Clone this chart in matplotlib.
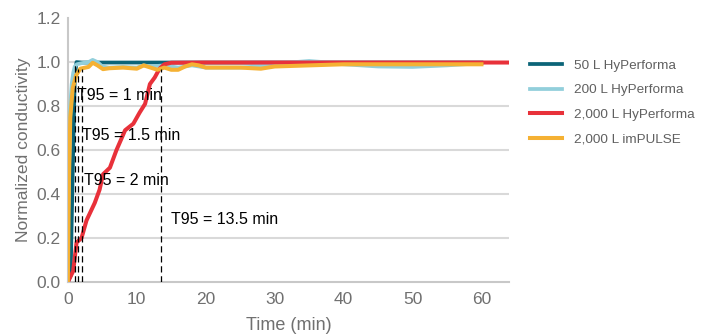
import matplotlib
matplotlib.use("Agg")
import matplotlib.pyplot as plt

plt.rcParams['font.family'] = ['Liberation Sans', 'DejaVu Sans']

# 50 L HyPerforma
t_50 = [0, 0.4, 0.7, 1.0, 1.25, 2, 5, 10, 20, 30, 40, 50, 60]
y_50 = [0, 0.03, 0.5, 0.93, 1.0, 0.998, 0.998, 0.998, 0.998, 0.998, 0.998, 0.998, 0.998]

# 200 L HyPerforma
t_200 = [0.05, 0.3, 0.55, 0.77, 1.0, 1.3, 2, 3, 3.6, 4.3, 5, 6, 8, 10, 11, 12, 14, 16,
         18, 20, 25, 30, 33, 35, 37, 40, 45, 50, 55, 60]
y_200 = [0.6, 0.78, 0.9, 0.95, 0.98, 0.99, 0.995, 1.0, 1.01, 1.0, 0.98, 0.975, 0.978, 0.975,
         0.985, 0.98, 0.985, 0.975, 0.985, 0.975, 0.975, 0.985, 1.0, 1.005, 1.0, 0.99, 0.98,
         0.978, 0.985, 0.995]

# 2,000 L HyPerforma
t_2000 = [0, 0.77, 1.26, 1.98, 2.7, 3.9, 4.6, 5.1, 6.1, 7.05, 8.3, 9.5, 10.4, 11.2, 11.9,
          12.6, 13.3, 14, 15, 20, 30, 40, 50, 65]
y_2000 = [0, 0.05, 0.18, 0.2, 0.28, 0.36, 0.42, 0.49, 0.52, 0.6, 0.69, 0.72, 0.77, 0.81, 0.9,
          0.93, 0.97, 0.99, 0.997, 0.998, 0.998, 0.998, 0.998, 0.998]

# 2,000 L imPULSE
t_imp = [0, 0.15, 0.35, 0.7, 1.2, 1.8, 3, 3.6, 4.3, 5.1, 6, 8, 10, 11, 12, 13, 14, 15, 16,
         17, 18, 19, 20, 25, 28, 30, 35, 40, 50, 60]
y_imp = [0, 0.45, 0.75, 0.88, 0.94, 0.97, 0.978, 0.997, 0.985, 0.968, 0.972, 0.975, 0.97,
         0.985, 0.975, 0.965, 0.975, 0.965, 0.965, 0.98, 0.99, 0.985, 0.975, 0.975, 0.97,
         0.98, 0.985, 0.99, 0.99, 0.99]

t95_x = [1, 1.5, 2, 13.5]
t95_top = [0.99, 0.97, 0.97, 0.97]
t95_labels = ["T95 = 1 min", "T95 = 1.5 min", "T95 = 2 min", "T95 = 13.5 min"]
t95_pos = [(1.3, 0.85), (2.0, 0.665), (2.3, 0.46), (15.0, 0.285)]

grid_levels = [0.2, 0.4, 0.6, 0.8, 1.0]

fig = plt.figure(figsize=(7.07, 3.35), dpi=100)
ax = fig.add_axes([0.096, 0.158, 0.624, 0.788])

for g in grid_levels:
    ax.axhline(g, color="#d9d9d9", lw=1.5, zorder=0)

ax.plot(t_50, y_50, color="#0b6478", lw=2.7, label="50 L HyPerforma", zorder=3)
ax.plot(t_200, y_200, color="#92cfdb", lw=2.7, label="200 L HyPerforma", zorder=4)
ax.plot(t_2000, y_2000, color="#e8313a", lw=2.9, label="2,000 L HyPerforma", zorder=5)
ax.plot(t_imp, y_imp, color="#f5b133", lw=2.9, label="2,000 L imPULSE", zorder=6)

for x, top in zip(t95_x, t95_top):
    ax.plot([x, x], [0, top], color="black", lw=0.9, ls=(0, (5, 3)), zorder=7)
for lab, (x, y) in zip(t95_labels, t95_pos):
    ax.text(x, y, lab, fontsize=11.5, color="black", va="center", ha="left", zorder=8)

ax.set_xlim(0, 64)
ax.set_ylim(0, 1.2)
ax.set_xticks([0, 10, 20, 30, 40, 50, 60])
ax.set_yticks([0.0, 0.2, 0.4, 0.6, 0.8, 1.0, 1.2])
ax.set_yticklabels(["0.0", "0.2", "0.4", "0.6", "0.8", "1.0", "1.2"])
ax.tick_params(length=0, labelsize=12.5, colors="#707070")
ax.tick_params(axis="x", pad=7)
ax.tick_params(axis="y", pad=5)
ax.set_xlabel("Time (min)", fontsize=13, color="#707070", labelpad=7)
ax.set_ylabel("Normalized conductivity", fontsize=12.6, color="#707070", labelpad=4)

for s in ["top", "right"]:
    ax.spines[s].set_visible(False)
for s in ["left", "bottom"]:
    ax.spines[s].set_color("#c8c8c8")
    ax.spines[s].set_linewidth(1.5)

leg = ax.legend(loc="upper left", bbox_to_anchor=(1.02, 0.89), frameon=False, fontsize=9.7,
                handlelength=2.4, labelspacing=0.9, handletextpad=0.9)
for txt in leg.get_texts():
    txt.set_color("#606060")

fig.savefig("out.png", dpi=100)
